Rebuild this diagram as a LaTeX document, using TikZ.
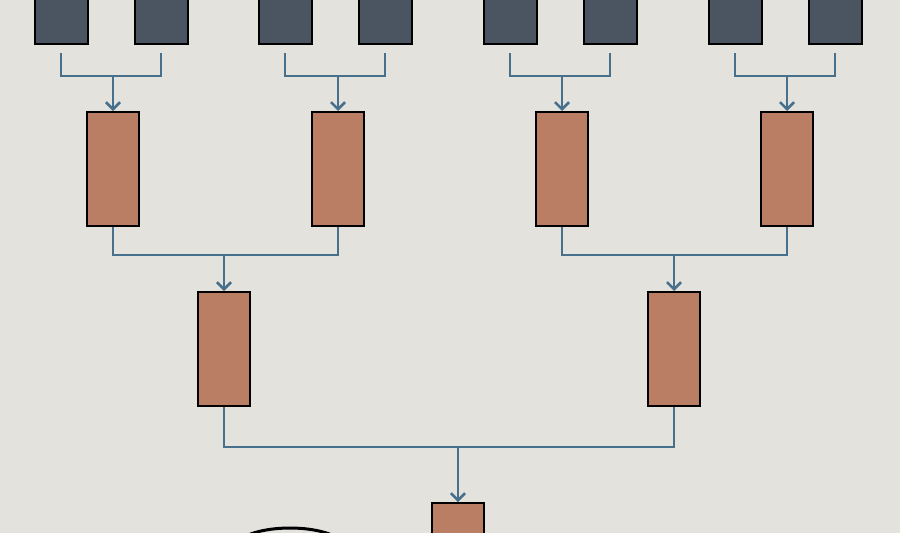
\documentclass[tikz,border=0pt]{standalone}
\usepackage{tikz}
\usetikzlibrary{arrows.meta, calc, shapes.geometric}
\definecolor{bgc}{HTML}{E4E2DD}
\definecolor{leafc}{HTML}{4B5561}
\definecolor{mergec}{HTML}{B97E64}
\definecolor{linkc}{HTML}{46708C}

\begin{document}
\begin{tikzpicture}[x=1pt, y=-1pt,
  leaf/.style={draw=black, line width=2pt, fill=leafc, minimum width=53pt, minimum height=52pt, inner sep=0pt},
  merge/.style={draw=black, line width=2pt, fill=mergec, minimum width=52pt, minimum height=114pt, inner sep=0pt},
  link/.style={draw=linkc, line width=2.6pt},
  arr/.style={link, -{Straight Barb[length=7pt, width=14pt]}}
]
\fill[bgc] (0,0) rectangle (900,533);
\useasboundingbox (0,0) rectangle (900,533);

% Leaves
\node[leaf] (l1) at (61,18) {};
\node[leaf] (l2) at (161,18) {};
\node[leaf] (l3) at (285,18) {};
\node[leaf] (l4) at (385,18) {};
\node[leaf] (l5) at (510,18) {};
\node[leaf] (l6) at (610,18) {};
\node[leaf] (l7) at (735,18) {};
\node[leaf] (l8) at (835,18) {};

% First merges
\node[merge] (m1) at (113,169) {};
\node[merge] (m2) at (338,169) {};
\node[merge] (m3) at (562,169) {};
\node[merge] (m4) at (787,169) {};

% Second merges
\node[merge] (n1) at (224,349) {};
\node[merge] (n2) at (674,349) {};

% Final merge
\node[merge, anchor=north] (root) at (458,502) {};

% Links
\foreach \a/\b/\c in {l1/l2/m1, l3/l4/m2, l5/l6/m3, l7/l8/m4}{
  \draw[link] ($(\a.south)+(0,8)$) |- ($(\c.north)+(0,-35)$) -| ($(\b.south)+(0,8)$);
  \draw[arr] ($(\c.north)+(0,-35)$) -- (\c.north);
}
\foreach \a/\b/\c in {m1/m2/n1, m3/m4/n2}{
  \draw[link] (\a.south) |- ($(\c.north)+(0,-36)$) -| (\b.south);
  \draw[arr] ($(\c.north)+(0,-36)$) -- (\c.north);
}
\draw[link] (n1.south) |- ($(root.north)+(0,-55)$) -| (n2.south);
\draw[arr] ($(root.north)+(0,-55)$) -- (root.north);

% Partial ellipse
\node[draw=black, line width=3pt, ellipse, minimum width=110pt, minimum height=40pt] (blob) at (290,548) {};
\end{tikzpicture}
\end{document}
